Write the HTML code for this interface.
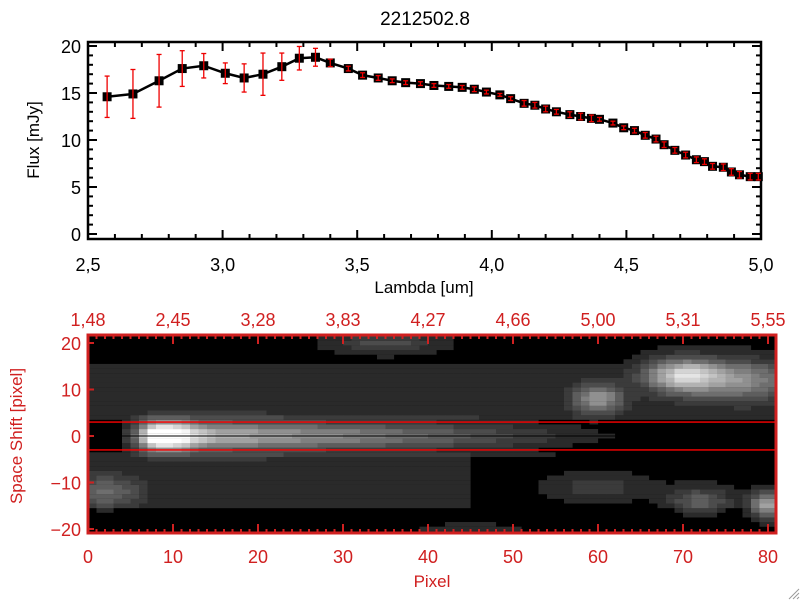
<!DOCTYPE html>
<html><head><meta charset="utf-8"><style>
html,body{margin:0;padding:0;background:#fff;}
svg text{font-family:"Liberation Sans",sans-serif;}
</style></head><body>
<svg id="c" width="800" height="600" viewBox="0 0 800 600" xmlns="http://www.w3.org/2000/svg">
<defs><clipPath id="hmclip"><rect x="88" y="335" width="688" height="198"/></clipPath></defs>
<rect width="800" height="600" fill="#fff"/>
<text x="425" y="25" font-size="19" text-anchor="middle">2212502.8</text>
<g id="topPanel"></g>
<g id="botPanel"></g>
<g stroke="#999" stroke-width="1">
<line x1="789" y1="599" x2="799" y2="589"/><line x1="793" y1="599" x2="799" y2="593"/><line x1="797" y1="599" x2="799" y2="597"/>
</g>
</svg>
<script>
const lambda=[2.571,2.667,2.764,2.85,2.93,3.01,3.08,3.15,3.22,3.285,3.345,3.40,3.467,3.52,3.578,3.63,3.68,3.735,3.785,3.84,3.89,3.935,3.98,4.03,4.07,4.12,4.16,4.20,4.24,4.29,4.33,4.37,4.40,4.45,4.49,4.53,4.57,4.61,4.64,4.68,4.72,4.76,4.79,4.82,4.86,4.89,4.92,4.96,4.99];
const flux=[14.6,14.9,16.3,17.6,17.9,17.1,16.6,17.0,17.8,18.7,18.8,18.2,17.6,16.9,16.6,16.3,16.1,16.0,15.8,15.7,15.6,15.4,15.1,14.8,14.4,13.9,13.7,13.3,13.0,12.7,12.5,12.3,12.2,11.8,11.3,11.0,10.5,10.1,9.5,8.9,8.4,7.9,7.7,7.2,7.1,6.6,6.3,6.1,6.1];
const fluxErr=[2.2,2.6,2.8,1.9,1.3,1.1,1.5,2.25,1.45,1.25,0.95,0.4,0.25,0.25,0.25,0.2,0.2,0.2,0.2,0.2,0.2,0.25,0.2,0.15,0.2,0.3,0.3,0.3,0.25,0.3,0.35,0.35,0.2,0.2,0.2,0.25,0.3,0.3,0.3,0.3,0.3,0.3,0.3,0.3,0.35,0.35,0.35,0.35,0.35];
const xTicksTop=[2.5,3.0,3.5,4.0,4.5,5.0];
const yTicksTop=[0,5,10,15,20];
const pixTicks=[0,10,20,30,40,50,60,70,80];
const lamTickLabels=["1.48","2.45","3.28","3.83","4.27","4.66","5.00","5.31","5.55"];
const shiftTicks=[-20,-10,0,10,20];
// heatmap model components: [centerPixel, centerShift, sigmaX, sigmaY, amplitude]
const blobs=[[9,0,2.2,2.0,0.45],[70,13,3,2.5,0.5],[77,12,4,3,0.3],[60,8,2,2.2,0.35],[80,-15,1.5,2,0.4],[72,-14,2.5,2,0.2],[2,-12,3,2.5,0.2],[35,20,4,1.5,0.15],[60,-11,4,2,0.1],[45,-20,5,1,0.1]];
const streakAmp=[0,0,0,0,0.08,0.15,0.3,0.45,0.52,0.55,0.55,0.54,0.52,0.5,0.49,0.48,0.47,0.46,0.45,0.44,0.43,0.42,0.41,0.4,0.39,0.38,0.37,0.36,0.35,0.35,0.34,0.33,0.32,0.31,0.3,0.29,0.28,0.27,0.26,0.25,0.24,0.23,0.22,0.21,0.2,0.19,0.18,0.17,0.16,0.15,0.14,0.13,0.12,0.11,0.1,0.09,0.08,0.07,0.06,0.06,0.05,0.05,0.04,0.04,0.04,0.03,0.03,0.03,0.03,0.02,0.02,0.02,0.02,0.02,0.01,0,0,0,0,0,0];
const bands=[[4,15,0.06],[-15,-4,0.06],[16,21,0.03]];

const NS="http://www.w3.org/2000/svg";
function mk(tag,attrs,parent){const e=document.createElementNS(NS,tag);for(const k in attrs)e.setAttribute(k,attrs[k]);parent.appendChild(e);return e;}

// ---- top panel
const topG=document.getElementById('topPanel');
const L=88,R=761,T=42,B=239;
const xs=v=>L+(v-2.5)/2.5*(R-L);
const ys=v=>234-v*9.4;
for(let v=2.5;v<=5.001;v+=0.1){const x=xs(v);const maj=Math.abs(v*2-Math.round(v*2))<1e-6;const h=maj?9:5;
 mk('line',{x1:x,y1:B,x2:x,y2:B-h,stroke:'#000','stroke-width':2},topG);mk('line',{x1:x,y1:T,x2:x,y2:T+h,stroke:'#000','stroke-width':2},topG);}
for(let v=0;v<=20;v++){const y=ys(v);const h=v%5===0?9:5;
 mk('line',{x1:L,y1:y,x2:L+h,y2:y,stroke:'#000','stroke-width':2},topG);mk('line',{x1:R,y1:y,x2:R-h,y2:y,stroke:'#000','stroke-width':2},topG);}
mk('rect',{x:L,y:T,width:R-L,height:B-T,fill:'none',stroke:'#000','stroke-width':2.5},topG);
xTicksTop.forEach(v=>{const t=mk('text',{x:xs(v),y:271,'font-size':18,'text-anchor':'middle'},topG);t.textContent=v.toFixed(1).replace('.',',');
 
 });
yTicksTop.forEach(v=>{const t=mk('text',{x:81,y:ys(v)+7,'font-size':18,'text-anchor':'end'},topG);t.textContent=v;
 
 });
const xl=mk('text',{x:424,y:293,'font-size':17,'text-anchor':'middle'},topG);xl.textContent='Lambda [um]';


const yl=mk('text',{x:39,y:140,'font-size':17,'text-anchor':'middle',transform:'rotate(-90 39 140)'},topG);yl.textContent='Flux [mJy]';


const fl=mk('polyline',{points:lambda.map((l,i)=>xs(l)+','+ys(flux[i])).join(' '),fill:'none',stroke:'#000','stroke-width':2.5},topG);


lambda.forEach((l,i)=>{const x=xs(l),y=ys(flux[i]);
 const p=mk('rect',{x:x-4.5,y:y-4.5,width:9,height:9,fill:'#000'},topG);
 
 
 const g=mk('g',{stroke:'#e00','stroke-width':1.3},topG);
 
 
 const y1=ys(flux[i]+fluxErr[i]),y2=ys(flux[i]-fluxErr[i]);
 mk('line',{x1:x,y1:y1,x2:x,y2:y2},g);mk('line',{x1:x-2.5,y1:y1,x2:x+2.5,y2:y1},g);mk('line',{x1:x-2.5,y1:y2,x2:x+2.5,y2:y2},g);});

// ---- bottom panel
const botG=document.getElementById('botPanel');
const bL=88,bR=776,bT=335,bB=533,RED='#d02020';
const px=v=>bL+v*8.5;
const py=v=>436-v*4.65;
const hm=mk('g',{'clip-path':'url(#hmclip)'},botG);


mk('rect',{x:bL,y:bT,width:bR-bL,height:bB-bT,fill:'#000'},hm);
for(let i=0;i<81;i++){for(let j=-21;j<=21;j++){
 let v=0;const cx=i+0.5;
 blobs.forEach(b=>{v+=b[4]*Math.exp(-((cx-b[0])**2)/(2*b[2]*b[2])-((j-b[1])**2)/(2*b[3]*b[3]));});
 v+=streakAmp[i]*Math.exp(-(j*j)/(2*2.3*2.3));
 bands.forEach(b=>{if(j>=b[0]&&j<=b[1])v+=b[2]*(i<45||b[0]>0?1:0.5);});
 if(v<0.05)continue;
 const g=Math.min(255,Math.round(Math.floor(v*20)/20*340+25));
 mk('rect',{x:px(i),y:py(j+0.5),width:8.6,height:4.75,fill:`rgb(${g},${g},${g})`},hm);
}}
const au=mk('line',{x1:bL,y1:py(3),x2:bR,y2:py(3),stroke:'#f00','stroke-width':1.3},botG);

const al=mk('line',{x1:bL,y1:py(-3),x2:bR,y2:py(-3),stroke:'#f00','stroke-width':1.3},botG);

const cl=mk('line',{x1:bL,y1:py(0),x2:bR,y2:py(0),stroke:'#000','stroke-width':1},botG);

for(let v=0;v<=81;v++){const x=px(v);const h=v%10===0?9:4;
 mk('line',{x1:x,y1:bB,x2:x,y2:bB-h,stroke:RED,'stroke-width':2},botG);mk('line',{x1:x,y1:bT,x2:x,y2:bT+h,stroke:RED,'stroke-width':2},botG);}
shiftTicks.forEach(v=>{mk('line',{x1:bL,y1:py(v),x2:bL+6,y2:py(v),stroke:RED,'stroke-width':2},botG);});
mk('rect',{x:bL,y:bT,width:bR-bL,height:bB-bT,fill:'none',stroke:RED,'stroke-width':3},botG);
pixTicks.forEach((v,k)=>{let t=mk('text',{x:px(v),y:563,'font-size':18,'text-anchor':'middle',fill:RED},botG);t.textContent=v;
 
 
 t=mk('text',{x:px(v),y:326,'font-size':18,'text-anchor':'middle',fill:RED},botG);t.textContent=lamTickLabels[k].replace('.',',');
 
 });
shiftTicks.forEach(v=>{const t=mk('text',{x:81,y:py(v)+7,'font-size':18,'text-anchor':'end',fill:RED},botG);t.textContent=v===0?'0':(v<0?'\u2212'+(-v):v);
 
 });
const pl=mk('text',{x:432,y:587,'font-size':17,'text-anchor':'middle',fill:RED},botG);pl.textContent='Pixel';


const sl=mk('text',{x:22,y:436,'font-size':17,'text-anchor':'middle',fill:RED,transform:'rotate(-90 22 436)'},botG);sl.textContent='Space Shift [pixel]';


</script>
</body></html>
